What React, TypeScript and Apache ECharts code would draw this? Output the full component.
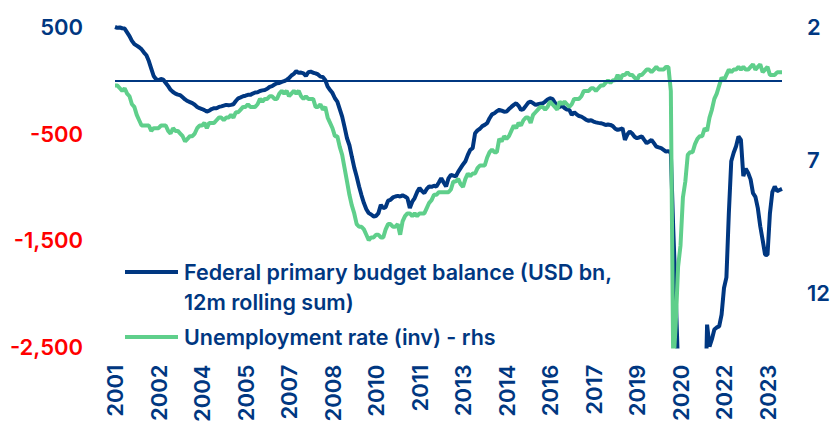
import React, { useEffect, useRef } from "react";
import * as echarts from "echarts";

const NAVY = "#003781";
const GREEN = "#5fcf8b";
const RED = "#ff0000";
const FONT = "Inter";

// Monthly categories Jan 2001 .. Jan 2024
const categories: string[] = [];
for (let y = 2001; y <= 2024; y++) {
  for (let m = 1; m <= 12; m++) {
    if (y === 2024 && m > 1) break;
    categories.push(`${y}-${m < 10 ? "0" + m : m}`);
  }
}

// Federal primary budget balance (USD bn, 12m rolling sum)
const primaryBalance: number[] = [
  500, 492, 495, 488, 485, 450, 415, 370, 340, 325, 310, 290,
  260, 235, 180, 110, 40, 10, 0, 12, 5, -25, -55, -90,
  -110, -125, -135, -140, -160, -180, -195, -205, -215, -230, -250, -262,
  -270, -280, -294, -285, -270, -262, -262, -250, -245, -238, -231, -235,
  -231, -225, -195, -169, -160, -150, -145, -137, -137, -125, -115, -112,
  -100, -95, -91, -80, -62, -55, -40, -28, -25, -15, -8, 3,
  20, 45, 60, 85, 70, 72, 65, 40, 75, 81, 70, 65,
  55, 34, 30, 3, -60, -91, -120, -169, -200, -270, -341, -440,
  -544, -610, -716, -820, -903, -997, -1080, -1153, -1210, -1247, -1260, -1278,
  -1275, -1247, -1169, -1200, -1190, -1130, -1122, -1100, -1091, -1085, -1091, -1080,
  -1091, -1106, -1200, -1140, -1106, -1050, -1012, -1040, -1059, -1020, -997, -1000,
  -990, -997, -960, -919, -960, -997, -920, -887, -895, -903, -860, -825,
  -790, -760, -700, -653, -637, -497, -470, -455, -430, -419, -403, -356,
  -320, -309, -290, -278, -285, -295, -294, -270, -250, -231, -216, -240,
  -278, -270, -240, -210, -200, -215, -231, -225, -220, -216, -200, -180,
  -169, -175, -210, -247, -250, -240, -260, -275, -278, -325, -300, -320,
  -335, -341, -355, -372, -380, -375, -388, -395, -400, -403, -410, -420,
  -415, -419, -430, -455, -466, -460, -450, -559, -510, -481, -500, -530,
  -544, -535, -528, -560, -591, -575, -559, -590, -622, -630, -637, -653,
  -669, -665, -680, -1400, -2000, -2700, -2800, -2850, -2950, -3050, -3150, -3250,
  -3350, -3500, -3600, -3400, -3300, -2294, -2500, -2430, -2340, -2320, -2310, -2200,
  -1950, -1850, -1250, -760, -680, -620, -528, -560, -900, -830, -870, -930,
  -1060, -1095, -1200, -1370, -1500, -1637, -1640, -1250, -1050, -997, -1040, -1030,
  -1020,
];

// Unemployment rate (%), plotted on an inverted right axis
const unemployment: number[] = [
  4.2, 4.2, 4.3, 4.4, 4.3, 4.5, 4.6, 4.9, 5.0, 5.3, 5.5, 5.7,
  5.7, 5.7, 5.7, 5.9, 5.8, 5.8, 5.8, 5.7, 5.7, 5.7, 5.9, 6.0,
  5.8, 5.9, 5.9, 6.0, 6.1, 6.3, 6.2, 6.1, 6.1, 6.0, 5.8, 5.7,
  5.7, 5.6, 5.8, 5.6, 5.6, 5.6, 5.5, 5.4, 5.4, 5.5, 5.4, 5.4,
  5.3, 5.4, 5.2, 5.2, 5.1, 5.0, 5.0, 4.9, 5.0, 5.0, 5.0, 4.9,
  4.7, 4.8, 4.7, 4.7, 4.6, 4.6, 4.7, 4.7, 4.5, 4.4, 4.5, 4.4,
  4.6, 4.5, 4.4, 4.5, 4.4, 4.6, 4.7, 4.6, 4.7, 4.7, 4.7, 5.0,
  5.0, 4.9, 5.1, 5.0, 5.4, 5.6, 5.8, 6.1, 6.1, 6.5, 6.8, 7.3,
  7.8, 8.3, 8.7, 9.0, 9.4, 9.5, 9.5, 9.6, 9.8, 10.0, 9.9, 9.9,
  9.8, 9.8, 9.9, 9.9, 9.6, 9.4, 9.4, 9.5, 9.5, 9.4, 9.8, 9.3,
  9.1, 9.0, 9.0, 9.1, 9.0, 9.1, 9.0, 9.0, 9.0, 8.8, 8.6, 8.5,
  8.3, 8.3, 8.2, 8.2, 8.2, 8.2, 8.2, 8.1, 7.8, 7.8, 7.7, 7.9,
  8.0, 7.7, 7.5, 7.6, 7.5, 7.5, 7.3, 7.2, 7.2, 7.2, 6.9, 6.7,
  6.6, 6.7, 6.7, 6.2, 6.3, 6.1, 6.2, 6.1, 5.9, 5.7, 5.8, 5.6,
  5.7, 5.5, 5.4, 5.4, 5.6, 5.3, 5.2, 5.1, 5.0, 5.0, 5.1, 5.0,
  4.8, 4.9, 5.0, 5.1, 4.8, 4.9, 4.8, 4.9, 5.0, 4.9, 4.7, 4.7,
  4.7, 4.6, 4.4, 4.4, 4.4, 4.3, 4.3, 4.4, 4.3, 4.2, 4.2, 4.1,
  4.0, 4.1, 4.0, 4.0, 3.8, 4.0, 3.8, 3.8, 3.7, 3.8, 3.8, 3.9,
  4.0, 3.8, 3.8, 3.7, 3.6, 3.6, 3.7, 3.6, 3.5, 3.6, 3.6, 3.6,
  3.5, 3.5, 4.4, 14.8, 13.2, 11.0, 10.2, 8.4, 7.8, 6.8, 6.7, 6.7,
  6.4, 6.2, 6.1, 6.1, 5.8, 5.9, 5.4, 5.1, 4.7, 4.5, 4.2, 3.9,
  4.0, 3.8, 3.6, 3.7, 3.6, 3.6, 3.5, 3.6, 3.5, 3.6, 3.6, 3.5,
  3.4, 3.6, 3.5, 3.4, 3.7, 3.6, 3.5, 3.8, 3.8, 3.8, 3.7, 3.7,
  3.7,
];

const legendLine1 = "Federal primary budget balance (USD bn,";
const legendLine2 = "12m rolling sum)";
const legendUnemp = "Unemployment rate (inv) - rhs";

export default function App() {
  const ref = useRef<HTMLDivElement>(null);
  useEffect(() => {
    if (!ref.current) return;
    const chart = echarts.init(ref.current, undefined, { renderer: "svg" });
    const labelStyle = { fontFamily: FONT, fontWeight: 600 };
    const legendFont = `600 21.5px ${FONT}`;
    chart.setOption({
      animation: false,
      backgroundColor: "#ffffff",
      grid: { left: 115, right: 55, top: 27, bottom: 78, containLabel: false },
      xAxis: {
        type: "category",
        data: categories,
        boundaryGap: false,
        axisLine: { show: false },
        axisTick: { show: false },
        splitLine: { show: false },
        axisLabel: {
          ...labelStyle,
          interval: 17,
          rotate: 90,
          margin: 18,
          fontSize: 22,
          color: NAVY,
          formatter: (v: string) => v.slice(0, 4),
        },
      },
      yAxis: [
        {
          type: "value",
          min: -2500,
          max: 500,
          interval: 1000,
          axisLine: { show: false },
          axisTick: { show: false },
          splitLine: { show: false },
          axisLabel: {
            ...labelStyle,
            fontSize: 22,
            margin: 32,
            color: (v: number) => (Number(v) < 0 ? RED : NAVY),
            formatter: (v: number) => v.toLocaleString("en-US"),
          },
        },
        {
          type: "value",
          inverse: true,
          min: 2,
          max: 14,
          interval: 5,
          position: "right",
          axisLine: { show: false },
          axisTick: { show: false },
          splitLine: { show: false },
          axisLabel: {
            ...labelStyle,
            fontSize: 22,
            margin: 25,
            color: NAVY,
            showMaxLabel: false,
          },
        },
      ],
      series: [
        {
          name: "Federal primary budget balance",
          type: "line",
          data: primaryBalance,
          yAxisIndex: 0,
          symbol: "none",
          lineStyle: { color: NAVY, width: 4 },
          itemStyle: { color: NAVY },
          clip: true,
          z: 2,
          markLine: {
            silent: true,
            symbol: "none",
            label: { show: false },
            lineStyle: { color: NAVY, width: 2, type: "solid" },
            data: [{ yAxis: 0 }],
          },
        },
        {
          name: "Unemployment rate (inv) - rhs",
          type: "line",
          data: unemployment,
          yAxisIndex: 1,
          symbol: "none",
          lineStyle: { color: GREEN, width: 4 },
          itemStyle: { color: GREEN },
          clip: true,
          z: 3,
        },
      ],
      graphic: [
        {
          type: "line",
          shape: { x1: 125, y1: 272, x2: 178, y2: 272 },
          style: { stroke: NAVY, lineWidth: 4 },
        },
        {
          type: "text",
          x: 184,
          y: 272,
          style: { text: legendLine1, fill: NAVY, font: legendFont, verticalAlign: "middle" },
        },
        {
          type: "text",
          x: 184,
          y: 302,
          style: { text: legendLine2, fill: NAVY, font: legendFont, verticalAlign: "middle" },
        },
        {
          type: "line",
          shape: { x1: 125, y1: 337, x2: 178, y2: 337 },
          style: { stroke: GREEN, lineWidth: 4 },
        },
        {
          type: "text",
          x: 184,
          y: 337,
          style: { text: legendUnemp, fill: NAVY, font: legendFont, verticalAlign: "middle" },
        },
      ],
    });
    return () => chart.dispose();
  }, []);
  return (
    <div
      ref={ref}
      style={{ position: "absolute", left: 0, top: 0, width: 837, height: 425 }}
    />
  );
}
